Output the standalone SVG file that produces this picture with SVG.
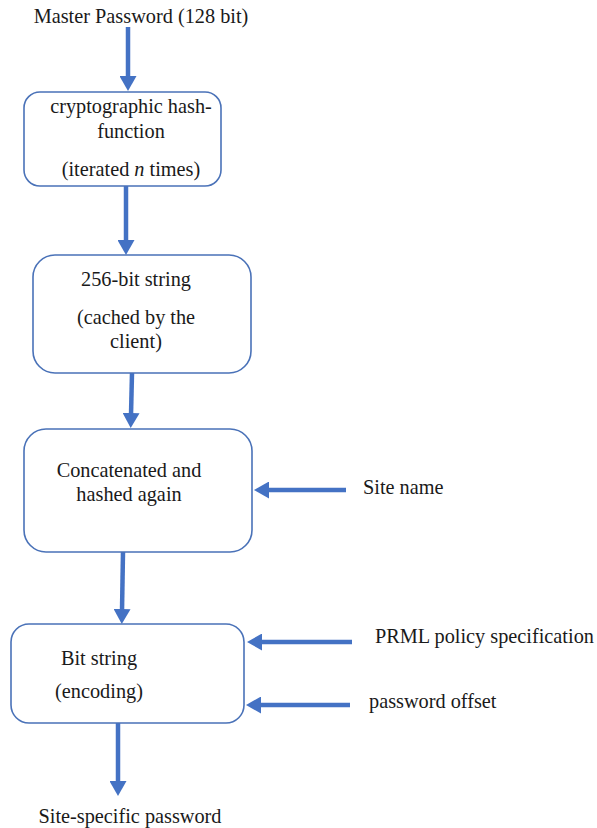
<svg xmlns="http://www.w3.org/2000/svg" width="597" height="828" viewBox="0 0 597 828">
<style>
text{font-family:"Liberation Serif","Times New Roman",serif;font-size:20.3px;fill:#1a1a1a}
.c{text-anchor:middle}
.box{fill:#fff;stroke:#4a72b8;stroke-width:1.6}
.arr{stroke:#4472C4;stroke-width:4.5;fill:none;marker-end:url(#ah)}
</style>
<defs>
<marker id="ah" markerUnits="userSpaceOnUse" markerWidth="16" markerHeight="17" refX="2" refY="8.5" orient="auto">
<path d="M0,0 L15,8.5 L0,17 z" fill="#4472C4"/>
</marker>
</defs>
<rect width="597" height="828" fill="#fff"/>
<g id="connectors">
<line class="arr" x1="128" y1="27" x2="128" y2="78"/>
<line class="arr" x1="126" y1="186" x2="126" y2="242"/>
<line class="arr" x1="132" y1="373" x2="131" y2="415"/>
<line class="arr" x1="346" y1="490" x2="267" y2="490"/>
<line class="arr" x1="123" y1="552" x2="122" y2="611"/>
<line class="arr" x1="352" y1="642" x2="260" y2="642"/>
<line class="arr" x1="350" y1="705" x2="259" y2="705"/>
<line class="arr" x1="118" y1="723" x2="118" y2="783"/>
</g>
<g id="master">
<text class="c" x="141" y="23">Master Password (128 bit)</text>
</g>
<g id="hash">
<rect class="box" x="24" y="92" width="197" height="94" rx="16"/>
<text class="c" x="131" y="113">cryptographic hash-</text>
<text class="c" x="131" y="138">function</text>
<text class="c" x="131" y="176">(iterated <tspan font-style="italic">n</tspan> times)</text>
</g>
<g id="bit256">
<rect class="box" x="33" y="255" width="218" height="118" rx="22"/>
<text class="c" x="136" y="286">256-bit string</text>
<text class="c" x="136" y="324">(cached by the</text>
<text class="c" x="136" y="348">client)</text>
</g>
<g id="concat">
<rect class="box" x="24" y="429" width="228" height="123" rx="22"/>
<text class="c" x="129" y="477">Concatenated and</text>
<text class="c" x="129" y="501">hashed again</text>
</g>
<g id="sitename">
<text x="363" y="494">Site name</text>
</g>
<g id="bitstring">
<rect class="box" x="11" y="624" width="233" height="99" rx="18"/>
<text class="c" x="99" y="665">Bit string</text>
<text class="c" x="99" y="698">(encoding)</text>
</g>
<g id="prml">
<text x="375" y="643">PRML policy specification</text>
</g>
<g id="offset">
<text x="369" y="708">password offset</text>
</g>
<g id="output">
<text class="c" x="130" y="823">Site-specific password</text>
</g>
</svg>
